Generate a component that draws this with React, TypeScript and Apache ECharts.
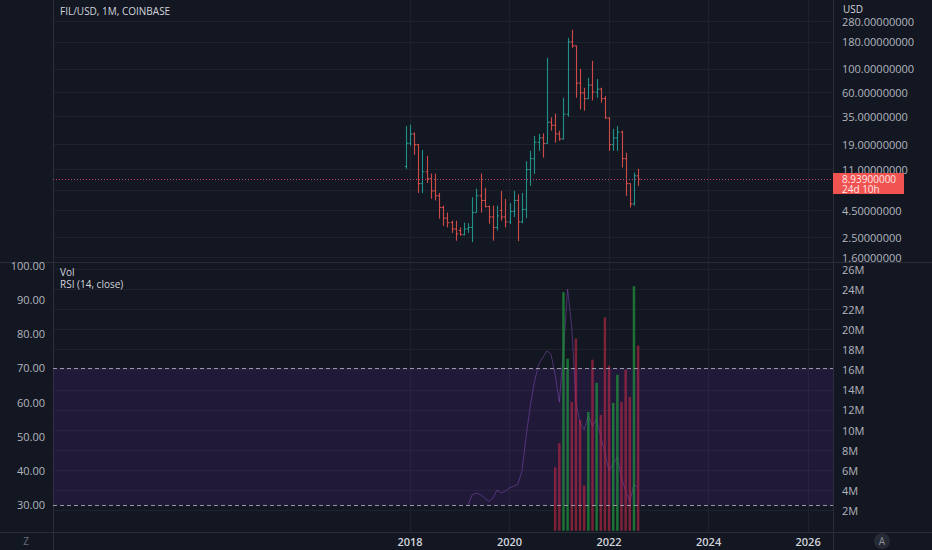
import { useEffect, useRef } from 'react';
import * as echarts from 'echarts';

const BG = '#131722';
const GRID_LINE = '#1e222d';
const BORDER = '#2a2e39';
const TEXT = '#b2b5be';
const UP = '#26a69a';
const DOWN = '#ef5350';
const FONT = "'Open Sans', 'Noto Sans', sans-serif";

// monthly OHLC bars, first bar = Dec 2017
const barStart = '2017-12';
const opens = [
  11.8, 19.6, 24, 19, 8.1, 10.5, 9.0, 6.9, 6.2, 4.8, 3.8, 3.45, 3.0, 2.9, 2.65, 3.0, 3.1, 4.3, 6.2, 5.6,
  4.9, 3.9, 3.1, 4.5, 3.9, 3.5, 4.4, 5.6, 3.5, 4.6, 11, 14, 20, 22, 19.5, 31, 29, 24, 21.5, 37,
  180, 165, 73, 59, 52, 70, 60, 64, 52, 34, 19, 22, 25, 14, 8.1, 5.2, 9.6,
];
const highs = [
  28.5, 29.4, 24.8, 19.3, 16.9, 14.9, 10.1, 10.1, 6.6, 5.0, 4.3, 3.6, 3.6, 3.1, 3.45, 3.4, 6.0, 7.25, 10.1, 7.4,
  5.0, 5.0, 5.0, 6.9, 5.8, 5.3, 6.9, 6.4, 6.6, 13.2, 16.6, 23, 24, 24.3, 127, 34.5, 37.5, 25.8, 53, 197,
  235, 166, 100, 66, 82, 119, 80, 66, 55, 34.5, 26.9, 28.5, 25.8, 15.9, 8.1, 10.3, 11.2,
];
const lows = [
  11.2, 18.6, 15.2, 6.6, 6.6, 8.2, 5.8, 5.6, 3.76, 3.2, 3.1, 2.75, 2.32, 2.6, 2.6, 2.75, 2.25, 4.3, 4.3, 4.8,
  3.37, 2.32, 2.9, 3.6, 3.1, 3.35, 3.9, 2.3, 3.4, 3.8, 7.7, 10, 16.6, 14.3, 19.4, 25.8, 19.8, 20.7, 21.3, 35,
  158, 53, 41, 40, 51.7, 50, 53, 47.6, 33.5, 16.6, 16.6, 16.6, 11.5, 6.2, 4.8, 5.0, 7.7,
];
const closes = [
  19.6, 24, 19, 8.1, 10.5, 9.0, 6.9, 6.2, 4.8, 3.8, 3.45, 3.0, 2.7, 2.65, 3.0, 3.1, 4.3, 6.2, 5.6, 4.9,
  3.9, 3.1, 4.0, 3.9, 3.5, 4.4, 5.6, 3.5, 4.6, 11, 14, 20, 22, 19.5, 31, 29, 24, 21.5, 37, 180,
  165, 73, 59, 52, 70, 60, 64, 52, 34, 19, 22, 25, 14, 8.1, 5.2, 9.6, 8.939,
];

// volume in millions, first bar = Dec 2020
const volStart = '2020-12';
const volumes = [
  6.3, 8.7, 23.7, 17.1, 12.8, 19.1, 11.0, 4.5, 11.8, 17.0, 14.7, 11.5, 21.2, 16.4, 12.7, 15.5, 12.8, 16.0,
  13.3, 24.3, 18.4,
];

// RSI(14), first point = Mar 2019
const rsiStart = '2019-03';
const rsiValues = [
  30, 33, 33.5, 33, 32, 31, 32, 34.4, 33.5, 34, 35, 35.5, 36, 40, 50, 59, 66, 71, 73, 75, 74, 68, 60, 75,
  93, 82, 60, 54, 52, 56, 53, 55, 50, 45, 40, 42, 44, 38, 34, 31, 36, 35,
];

const priceTicks = [280, 180, 100, 60, 35, 19, 11, 4.5, 2.5, 1.6];
const priceGridTicks = [280, 180, 100, 60, 35, 19, 11, 7, 4.5, 2.5, 1.6];
const rsiTicks = [30, 40, 50, 60, 70, 80, 90, 100];
const volTicks = [2, 4, 6, 8, 10, 12, 14, 16, 18, 20, 22, 24, 26];
const yearTicks = [2018, 2020, 2022, 2024, 2026];
const lastPrice = 8.939;
const countdown = '24d 10h';

// x axis: months counted from Jan 2018
const monthIndex = (s: string) => {
  const [y, m] = s.split('-').map(Number);
  return (y - 2018) * 12 + (m - 1);
};
const X_MIN = -86.1;
const X_MAX = 102.0;
const yearPos = yearTicks.map((y) => (y - 2018) * 12);

const barX0 = monthIndex(barStart);
const ohlcData = opens.map((o, i) => [
  barX0 + i,
  Math.log10(o),
  Math.log10(highs[i]),
  Math.log10(lows[i]),
  Math.log10(closes[i]),
]);

const volX0 = monthIndex(volStart);
const volData = volumes.map((v, i) => {
  const k = volX0 + i - barX0;
  const up = closes[k] >= opens[k];
  return {
    value: [volX0 + i, v],
    itemStyle: { color: up ? 'rgba(30,150,60,0.72)' : 'rgba(180,40,70,0.66)' },
  };
});

const rsiX0 = monthIndex(rsiStart);
const rsiData = rsiValues.map((r, i) => [rsiX0 + i, r]);

const renderBar = (_params: any, api: any) => {
  const x = api.value(0);
  const o = api.coord([x, api.value(1)]);
  const h = api.coord([x, api.value(2)]);
  const l = api.coord([x, api.value(3)]);
  const c = api.coord([x, api.value(4)]);
  const color = api.value(4) >= api.value(1) ? UP : DOWN;
  const style = { stroke: color, lineWidth: 1.1, opacity: 0.85 };
  const px = Math.round(o[0]) + 0.5;
  return {
    type: 'group',
    children: [
      { type: 'line', shape: { x1: px, y1: h[1], x2: px, y2: l[1] }, style },
      { type: 'line', shape: { x1: px - 1.8, y1: o[1], x2: px, y2: o[1] }, style },
      { type: 'line', shape: { x1: px, y1: c[1], x2: px + 1.8, y2: c[1] }, style },
    ],
  };
};

export default function App() {
  const chartRef = useRef<HTMLDivElement>(null);

  useEffect(() => {
    if (!chartRef.current) return;
    document.body.style.margin = '0';
    document.body.style.background = BG;
    const chart = echarts.init(chartRef.current, null, { renderer: 'svg' });

    const noAxisLine = { axisLine: { show: false } };

    const option: any = {
      animation: false,
      backgroundColor: BG,
      textStyle: { fontFamily: FONT },
      grid: [
        { left: 53, right: 99, top: 0, height: 262 },
        { left: 53, right: 99, top: 263, height: 269 },
      ],
      xAxis: [
        {
          type: 'value',
          gridIndex: 0,
          min: X_MIN,
          max: X_MAX,
          ...noAxisLine,
          axisTick: { show: false, customValues: yearPos },
          axisLabel: { show: false },
          splitLine: { show: true, lineStyle: { color: GRID_LINE } },
        },
        {
          type: 'value',
          gridIndex: 1,
          min: X_MIN,
          max: X_MAX,
          ...noAxisLine,
          axisTick: { show: false, customValues: yearPos },
          axisLabel: {
            customValues: yearPos,
            formatter: (v: number) => String(2018 + Math.round(v / 12)),
            color: '#d1d4dc',
            fontSize: 11,
            fontWeight: 600,
            margin: 4,
          },
          splitLine: { show: true, lineStyle: { color: GRID_LINE } },
        },
      ],
      yAxis: [
        {
          type: 'value',
          gridIndex: 0,
          position: 'right',
          min: 0.1632,
          max: 2.6535,
          ...noAxisLine,
          axisTick: { show: false, customValues: priceGridTicks.map(Math.log10) },
          axisLabel: {
            customValues: priceTicks.map(Math.log10),
            formatter: (v: number) => Math.pow(10, v).toFixed(8),
            color: TEXT,
            fontSize: 11,
            align: 'left',
            margin: 9,
          },
          splitLine: { show: true, lineStyle: { color: GRID_LINE } },
        },
        {
          type: 'value',
          gridIndex: 1,
          position: 'left',
          min: 22.1,
          max: 100.66,
          ...noAxisLine,
          axisTick: { show: false, customValues: rsiTicks },
          axisLabel: {
            customValues: rsiTicks,
            formatter: (v: number) => v.toFixed(2),
            color: TEXT,
            fontSize: 11,
            margin: 8,
          },
          splitLine: { show: false },
        },
        {
          type: 'value',
          gridIndex: 1,
          position: 'right',
          min: -0.12,
          max: 26.6,
          ...noAxisLine,
          axisTick: { show: false, customValues: volTicks },
          axisLabel: {
            customValues: volTicks,
            formatter: (v: number) => `${v}M`,
            color: TEXT,
            fontSize: 11,
            align: 'left',
            margin: 9,
          },
          splitLine: { show: true, lineStyle: { color: GRID_LINE } },
        },
      ],
      series: [
        {
          type: 'custom',
          name: 'FIL/USD',
          xAxisIndex: 0,
          yAxisIndex: 0,
          renderItem: renderBar,
          encode: { x: 0, y: [1, 2, 3, 4] },
          data: ohlcData,
          z: 3,
        },
        {
          type: 'line',
          name: 'last',
          xAxisIndex: 0,
          yAxisIndex: 0,
          data: [[barX0 + closes.length - 1, Math.log10(lastPrice)]],
          symbol: 'none',
          lineStyle: { opacity: 0 },
          silent: true,
          markLine: {
            silent: true,
            symbol: ['none', 'none'],
            label: { show: false },
            lineStyle: { type: [1, 2], color: '#d8467c', width: 1, opacity: 0.9 },
            data: [{ yAxis: Math.log10(lastPrice) }],
          },
        },
        {
          type: 'line',
          name: 'RSI',
          xAxisIndex: 1,
          yAxisIndex: 1,
          data: rsiData,
          symbol: 'none',
          z: 2,
          lineStyle: { color: '#8a4fc0', width: 1, opacity: 0.5 },
          markArea: {
            silent: true,
            itemStyle: { color: 'rgba(110,40,190,0.15)' },
            data: [[{ yAxis: 30 }, { yAxis: 70 }]],
          },
          markLine: {
            silent: true,
            symbol: ['none', 'none'],
            label: { show: false },
            lineStyle: { type: [4, 3], color: '#9598a1', width: 1 },
            data: [{ yAxis: 70 }, { yAxis: 30 }],
          },
        },
        {
          type: 'bar',
          name: 'Vol',
          xAxisIndex: 1,
          yAxisIndex: 2,
          barWidth: 2.5,
          data: volData,
          z: 3,
        },
      ],
    };

    chart.setOption(option);

    const py = chart.convertToPixel({ yAxisIndex: 0 }, Math.log10(lastPrice)) as number;
    const txt = (x: number, y: number, text: string, fill: string, size = 10, align = 'left', weight = 'normal') => ({
      type: 'text',
      x,
      y,
      silent: true,
      style: {
        text,
        fill,
        font: `${weight} ${size}px ${FONT}`,
        textAlign: align,
        textVerticalAlign: 'middle',
        align,
        verticalAlign: 'middle',
      },
    });
    const line = (x1: number, y1: number, x2: number, y2: number) => ({
      type: 'line',
      silent: true,
      shape: { x1, y1, x2, y2 },
      style: { stroke: BORDER, lineWidth: 1 },
    });

    chart.setOption({
      graphic: [
        line(53.5, 0, 53.5, 550),
        line(833.5, 0, 833.5, 550),
        line(0, 262.5, 932, 262.5),
        line(0, 532.5, 932, 532.5),
        txt(60, 11, 'FIL/USD, 1M, COINBASE', '#d1d4dc', 10),
        txt(60, 272, 'Vol', '#d1d4dc', 10),
        txt(60, 284, 'RSI (14, close)', '#d1d4dc', 10),
        txt(843, 9, 'USD', '#d1d4dc', 10),
        txt(26, 541, 'Z', '#6a6d78', 10, 'center'),
        {
          type: 'circle',
          silent: true,
          shape: { cx: 882, cy: 541, r: 8 },
          style: { fill: '#262a35' },
        },
        txt(882, 541, 'A', '#8a8d96', 10, 'center'),
        {
          type: 'rect',
          silent: true,
          shape: { x: 833, y: py - 6, width: 71, height: 21 },
          style: { fill: '#f05350' },
          z: 10,
        },
        {
          type: 'text',
          x: 842,
          y: py - 5,
          silent: true,
          z: 11,
          style: {
            text: `${lastPrice.toFixed(8)}\n${countdown}`,
            fill: '#fde9e9',
            font: `normal 10px ${FONT}`,
            lineHeight: 10,
            textAlign: 'left',
            textVerticalAlign: 'top',
            align: 'left',
            verticalAlign: 'top',
          },
        },
      ],
    });

    return () => {
      chart.dispose();
    };
  }, []);

  return <div ref={chartRef} style={{ width: 932, height: 550 }} />;
}
